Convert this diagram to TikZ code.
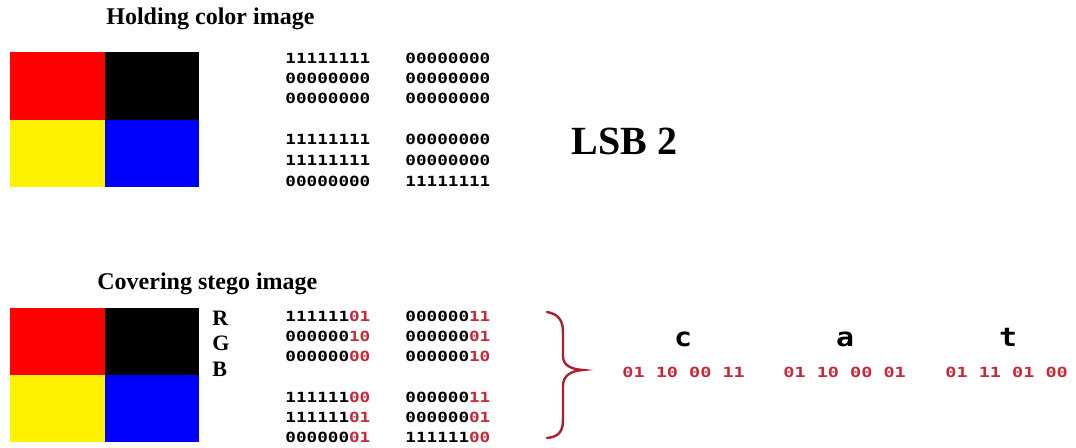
\documentclass[tikz,border=0pt]{standalone}
\usepackage{fontspec}
\setmainfont{Liberation Serif}
\newfontfamily\digfont{DejaVu Sans Mono}
\definecolor{bitred}{RGB}{200,40,55}
\definecolor{bracered}{RGB}{175,30,45}
\newcommand{\bw}[2]{\scalebox{1.26}[1]{#1\textcolor{bitred}{#2}}}
\newcommand{\rw}[1]{\scalebox{1.32}[1]{\textcolor{bitred}{#1}}}
\begin{document}
\begin{tikzpicture}[x=0.5pt,y=-0.5pt,
  title/.style={font=\fontsize{12}{14}\selectfont\bfseries, anchor=base west, inner sep=0},
  rgb/.style={font=\fontsize{11}{13}\selectfont\bfseries, anchor=base west, inner sep=0},
  bits/.style={font=\digfont\bfseries\fontsize{7}{8}\selectfont, anchor=west, inner sep=0},
  letter/.style={font=\digfont\bfseries\fontsize{13}{14}\selectfont, anchor=base, inner sep=0}]
\fill[white] (0,0) rectangle (1076,448);
\useasboundingbox (0,0) rectangle (1076,448);
% titles
\node[title] (t1) at (106,25) {Holding color image};
\node[title] (t2) at (97,290) {Covering stego image};
\node[font=\fontsize{20}{24}\selectfont\bfseries, anchor=base west, inner sep=0] (lsb) at (571,155) {LSB 2};
% top image
\fill[red] (10,52) rectangle (105,120);
\fill[black] (105,52) rectangle (199,120);
\fill[yellow] (10,120) rectangle (105,187);
\fill[blue] (105,120) rectangle (199,187);
% bottom image
\fill[red] (10,308) rectangle (105,375);
\fill[black] (105,308) rectangle (199,375);
\fill[yellow] (10,375) rectangle (105,442);
\fill[blue] (105,375) rectangle (199,442);
% RGB
\node[rgb] (R) at (212,326) {R};
\node[rgb] (G) at (212,351) {G};
\node[rgb] (B) at (212,377) {B};
% top bits
\node[bits] (a1) at (285,58) {\bw{11111111}{}};
\node[bits] (a2) at (285,78) {\bw{00000000}{}};
\node[bits] (a3) at (285,98) {\bw{00000000}{}};
\node[bits] (a4) at (285,139) {\bw{11111111}{}};
\node[bits] (a5) at (285,160) {\bw{11111111}{}};
\node[bits] (a6) at (285,181) {\bw{00000000}{}};
\node[bits] (b1) at (405,58) {\bw{00000000}{}};
\node[bits] (b2) at (405,78) {\bw{00000000}{}};
\node[bits] (b3) at (405,98) {\bw{00000000}{}};
\node[bits] (b4) at (405,139) {\bw{00000000}{}};
\node[bits] (b5) at (405,160) {\bw{00000000}{}};
\node[bits] (b6) at (405,181) {\bw{11111111}{}};
% bottom bits
\node[bits] (c1) at (285,316) {\bw{111111}{01}};
\node[bits] (c2) at (285,336) {\bw{000000}{10}};
\node[bits] (c3) at (285,356) {\bw{000000}{00}};
\node[bits] (c4) at (285,397) {\bw{111111}{00}};
\node[bits] (c5) at (285,417) {\bw{111111}{01}};
\node[bits] (c6) at (285,437) {\bw{000000}{01}};
\node[bits] (d1) at (405,316) {\bw{000000}{11}};
\node[bits] (d2) at (405,336) {\bw{000000}{01}};
\node[bits] (d3) at (405,356) {\bw{000000}{10}};
\node[bits] (d4) at (405,397) {\bw{000000}{11}};
\node[bits] (d5) at (405,417) {\bw{000000}{01}};
\node[bits] (d6) at (405,437) {\bw{111111}{00}};
% brace
\draw[bracered, line width=1.2pt, line cap=round]
  (547,312) .. controls (558,314) and (563,320) .. (563,332) -- (563,356)
  .. controls (563,365) and (570,369) .. (583,370)
  .. controls (570,371) and (563,376) .. (563,386) -- (563,420)
  .. controls (563,432) and (558,437) .. (547,438);
% letters
\node[letter] (lc) at (683,347) {\scalebox{1.15}[1]{c}};
\node[letter] (la) at (845,347) {\scalebox{1.15}[1]{a}};
\node[letter] (lt) at (1008,347) {\scalebox{1.15}[1]{t}};
\node[bits] (vc) at (622,372) {\rw{01 10 00 11}};
\node[bits] (va) at (783,372) {\rw{01 10 00 01}};
\node[bits] (vt) at (945,372) {\rw{01 11 01 00}};
\end{tikzpicture}
\end{document}
